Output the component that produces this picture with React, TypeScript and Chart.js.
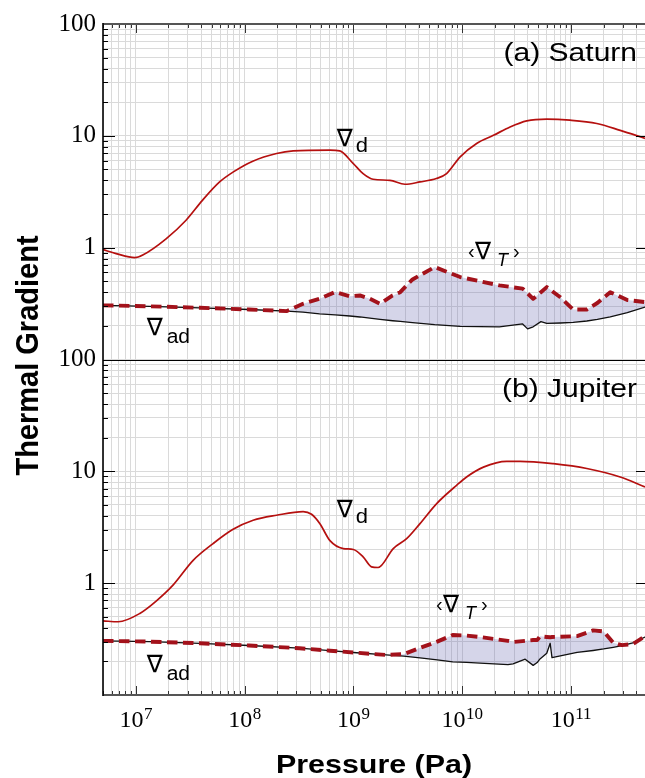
import React, { useEffect, useRef } from 'react';
import { Chart, registerables } from 'chart.js';

Chart.register(...registerables);

// ---------- Data ----------
// (a) Saturn
const saturnGradDPressure = [5e6, 6.6e6, 9.8e6, 1.16e7, 1.9e7, 2.9e7, 4.1e7, 5.9e7, 7.9e7, 1.19e8, 1.97e8, 2.8e8, 6.1e8, 7.5e8, 1e9, 1.23e9, 1.52e9, 2.17e9, 2.98e9, 4.1e9, 5.8e9, 7.2e9, 9.6e9, 1.36e10, 1.94e10, 2.76e10, 3.93e10, 6.0e10, 9.8e10, 1.73e11, 2.84e11, 4.8e11];
const saturnGradD = [0.96, 0.885, 0.815, 0.86, 1.2, 1.76, 2.65, 3.87, 4.76, 5.93, 6.95, 7.33, 7.45, 7.33, 5.65, 4.6, 4.09, 4.0, 3.69, 3.87, 4.15, 4.6, 6.49, 8.55, 10.1, 12.0, 13.6, 14.1, 13.8, 12.9, 11.2, 9.5];

const saturnPressure = [5e6, 1.35e7, 3.9e7, 1.1e8, 2.45e8, 3.45e8, 4.9e8, 6.8e8, 9.3e8, 1.15e9, 1.42e9, 1.76e9, 2.3e9, 2.7e9, 3.5e9, 5.6e9, 9.6e9, 2.2e10, 3.6e10, 4.0e10, 4.5e10, 5.3e10, 6.0e10, 8.0e10, 1.05e11, 1.4e11, 1.75e11, 2.3e11, 3.3e11, 4.8e11];
const saturnGradAd = [0.305, 0.298, 0.289, 0.28, 0.271, 0.265, 0.256, 0.251, 0.245, 0.24, 0.234, 0.228, 0.222, 0.219, 0.214, 0.205, 0.198, 0.196, 0.208, 0.188, 0.196, 0.218, 0.21, 0.212, 0.215, 0.221, 0.228, 0.24, 0.262, 0.294];
const saturnGradT = [0.305, 0.299, 0.29, 0.28, 0.271, 0.315, 0.349, 0.401, 0.367, 0.374, 0.349, 0.315, 0.374, 0.40, 0.52, 0.671, 0.546, 0.46, 0.43, 0.39, 0.349, 0.40, 0.444, 0.36, 0.28, 0.28, 0.32, 0.40, 0.34, 0.326];

// (b) Jupiter
const jupiterGradDPressure = [5e6, 6.9e6, 1.09e7, 1.55e7, 2.2e7, 3.37e7, 5.14e7, 7.85e7, 1.2e8, 1.97e8, 3.46e8, 4.13e8, 4.93e8, 6.1e8, 8.08e8, 1e9, 1.23e9, 1.47e9, 1.69e9, 2.33e9, 3.09e9, 4.1e9, 5.84e9, 8.9e9, 1.1e10, 1.57e10, 2.57e10, 3.41e10, 6.9e10, 1.4e11, 2.84e11, 4.8e11];
const jupiterGradD = [0.46, 0.452, 0.536, 0.695, 0.96, 1.6, 2.26, 3.03, 3.65, 4.05, 4.37, 4.13, 3.4, 2.4, 2.04, 2.0, 1.72, 1.4, 1.38, 2.04, 2.5, 3.41, 5.15, 7.5, 8.9, 10.9, 12.3, 12.3, 11.7, 10.6, 8.9, 7.25];

const jupiterPressure = [5e6, 1.35e7, 3.9e7, 1.1e8, 3.2e8, 6.1e8, 1e9, 2.0e9, 2.9e9, 4.1e9, 5.9e9, 8.2e9, 1.1e10, 1.46e10, 2.64e10, 2.94e10, 3.8e10, 4.5e10, 4.9e10, 5.2e10, 6.0e10, 6.45e10, 6.7e10, 1.14e11, 1.6e11, 2.0e11, 2.45e11, 2.95e11, 3.7e11, 4.8e11];
const jupiterGradAd = [0.305, 0.3, 0.29, 0.277, 0.262, 0.249, 0.24, 0.228, 0.223, 0.215, 0.206, 0.198, 0.196, 0.193, 0.187, 0.19, 0.209, 0.184, 0.195, 0.21, 0.236, 0.29, 0.216, 0.24, 0.25, 0.258, 0.267, 0.276, 0.292, 0.33];
const jupiterGradT = [0.305, 0.3, 0.29, 0.277, 0.262, 0.249, 0.24, 0.228, 0.232, 0.264, 0.3, 0.344, 0.34, 0.33, 0.305, 0.298, 0.305, 0.31, 0.31, 0.335, 0.33, 0.328, 0.33, 0.336, 0.378, 0.37, 0.293, 0.279, 0.285, 0.335];

// Axis ranges and labels
const pressureRange = [5e6, 4.8e11];
const gradientRange = [0.1, 100];
const xDecadeExponents = ['7', '8', '9', '10', '11'];
const panelTitles = ['(a) Saturn', '(b) Jupiter'];
const xTitle = 'Pressure (Pa)';
const yTitle = 'Thermal Gradient';

// ---------- Styles ----------
const RED = '#b5100f';
const DASH = '#a3121b';
const FILL = 'rgba(100,100,175,0.27)';
const GRID = '#dadada';
const SANS = '"Liberation Sans", Arial, sans-serif';
const SERIF = '"Liberation Serif", "Times New Roman", serif';
const NABLA = '"DejaVu Sans", sans-serif';

const pts = (xs: number[], ys: number[]) => xs.map((x, i) => ({ x, y: ys[i] }));

function logTicks(min: number, max: number) {
  const out: { value: number }[] = [];
  for (let e = Math.floor(Math.log10(min)); e <= Math.ceil(Math.log10(max)); e++) {
    for (let m = 1; m <= 9; m++) {
      const v = m * Math.pow(10, e);
      if (v >= min * 0.9999 && v <= max * 1.0001) out.push({ value: v });
    }
  }
  return out;
}
const isDecade = (v: number) => {
  const l = Math.log10(v);
  return Math.abs(l - Math.round(l)) < 1e-9;
};

type Part = { t: string; font: string; dx: number; dy: number; sx?: number };
const nablaFont = `24px ${NABLA}`;
const gradDParts: Part[] = [
  { t: '∇', font: nablaFont, dx: 0, dy: 0 },
  { t: 'd', font: `20px ${SANS}`, dx: 19, dy: 6, sx: 1.1 },
];
const gradAdParts: Part[] = [
  { t: '∇', font: nablaFont, dx: 0, dy: 0 },
  { t: 'ad', font: `20px ${SANS}`, dx: 20, dy: 8, sx: 1.05 },
];
const gradTParts: Part[] = [
  { t: '‹', font: `20px ${SANS}`, dx: 1, dy: -1 },
  { t: '∇', font: nablaFont, dx: 8, dy: 0 },
  { t: 'T', font: `italic 18px ${SANS}`, dx: 30, dy: 7 },
  { t: '›', font: `20px ${SANS}`, dx: 46, dy: -1 },
];
// anchors in data coordinates (pressure, gradient)
const annotations = [
  { axis: 'yTop', p: 7.06e8, g: 8.1, parts: gradDParts },
  { axis: 'yTop', p: 1.11e10, g: 0.8, parts: gradTParts },
  { axis: 'yTop', p: 1.26e7, g: 0.164, parts: gradAdParts },
  { axis: 'yBot', p: 7.06e8, g: 3.88, parts: gradDParts },
  { axis: 'yBot', p: 5.64e9, g: 0.55, parts: gradTParts },
  { axis: 'yBot', p: 1.26e7, g: 0.16, parts: gradAdParts },
];

function drawParts(ctx: CanvasRenderingContext2D, x: number, y: number, parts: Part[]) {
  for (const p of parts) {
    ctx.save();
    ctx.font = p.font;
    ctx.textAlign = 'left';
    ctx.textBaseline = 'alphabetic';
    ctx.translate(x + p.dx, y + p.dy);
    ctx.scale(p.sx ?? 1, 1);
    ctx.fillText(p.t, 0, 0);
    ctx.restore();
  }
}

const framePlugin = {
  id: 'frame',
  afterDraw(chart: any) {
    const { ctx, chartArea: a, scales } = chart;
    const xs = scales.x;
    const panels = [scales.yTop, scales.yBot];
    ctx.save();
    ctx.fillStyle = '#000';

    // x ticks (inward) top and bottom
    for (const t of xs.ticks) {
      const px = Math.round(xs.getPixelForValue(t.value)) + 0.5;
      const major = isDecade(t.value);
      const len = major ? 9 : 4;
      ctx.lineWidth = 1;
      ctx.strokeStyle = '#333';
      ctx.beginPath();
      ctx.moveTo(px, a.top);
      ctx.lineTo(px, a.top + len);
      ctx.moveTo(px, a.bottom);
      ctx.lineTo(px, a.bottom - len);
      ctx.stroke();
    }
    // y ticks (inward) left, majors on right
    for (const s of panels) {
      for (const t of s.ticks) {
        const py = Math.round(s.getPixelForValue(t.value)) + 0.5;
        const major = isDecade(t.value);
        ctx.strokeStyle = '#000';
        ctx.lineWidth = 1;
        ctx.beginPath();
        ctx.moveTo(a.left, py);
        ctx.lineTo(a.left + (major ? 12 : 5), py);
        if (major) {
          ctx.moveTo(a.right, py);
          ctx.lineTo(a.right - 9, py);
        }
        ctx.stroke();
      }
    }
    // frame lines
    ctx.strokeStyle = '#555';
    ctx.lineWidth = 2;
    ctx.beginPath();
    ctx.moveTo(a.left, a.top);
    ctx.lineTo(a.right, a.top);
    ctx.moveTo(a.left, a.bottom);
    ctx.lineTo(a.right, a.bottom);
    ctx.stroke();
    ctx.strokeStyle = '#000';
    ctx.lineWidth = 1;
    ctx.beginPath();
    const mid = Math.round(scales.yTop.bottom) + 0.5;
    ctx.moveTo(a.left, mid);
    ctx.lineTo(a.right, mid);
    ctx.stroke();
    ctx.lineWidth = 1.6;
    ctx.beginPath();
    ctx.moveTo(a.left, a.top - 1);
    ctx.lineTo(a.left, a.bottom + 1);
    ctx.stroke();

    // x tick labels 10^n
    for (const ex of xDecadeExponents) {
      const px = xs.getPixelForValue(Math.pow(10, Number(ex)));
      ctx.font = `24px ${SERIF}`;
      const w10 = ctx.measureText('10').width;
      ctx.font = `17px ${SERIF}`;
      const we = ctx.measureText(ex).width;
      const x0 = px - (w10 + we) / 2;
      ctx.textAlign = 'left';
      ctx.textBaseline = 'alphabetic';
      ctx.font = `24px ${SERIF}`;
      ctx.fillText('10', x0, a.bottom + 32);
      ctx.font = `17px ${SERIF}`;
      ctx.fillText(ex, x0 + w10 + 0.5, a.bottom + 24);
    }

    // axis titles
    ctx.save();
    ctx.font = `bold 26px ${SANS}`;
    ctx.textAlign = 'center';
    ctx.textBaseline = 'alphabetic';
    ctx.translate((a.left + a.right) / 2, a.bottom + 78);
    ctx.scale(1.17, 1);
    ctx.fillText(xTitle, 0, 0);
    ctx.restore();

    ctx.save();
    ctx.font = `bold 29px ${SANS}`;
    ctx.textAlign = 'center';
    ctx.textBaseline = 'alphabetic';
    ctx.translate(38, (a.top + a.bottom) / 2 - 4);
    ctx.rotate(-Math.PI / 2);
    ctx.scale(1, 1.1);
    ctx.fillText(yTitle, 0, 0);
    ctx.restore();

    // panel titles
    panels.forEach((s: any, i: number) => {
      ctx.save();
      ctx.font = `25px ${SANS}`;
      ctx.textAlign = 'right';
      ctx.textBaseline = 'alphabetic';
      ctx.translate(a.right - 8, s.top + 37);
      ctx.scale(1.2, 1);
      ctx.fillText(panelTitles[i], 0, 0);
      ctx.restore();
    });

    // curve annotations
    for (const an of annotations) {
      const s = scales[an.axis];
      drawParts(ctx, xs.getPixelForValue(an.p), s.getPixelForValue(an.g), an.parts);
    }
    ctx.restore();
  },
};

const yScale = (weight: number) => ({
  type: 'logarithmic' as const,
  position: 'left' as const,
  stack: 'panels',
  stackWeight: 1,
  weight,
  min: gradientRange[0],
  max: gradientRange[1],
  afterBuildTicks: (s: any) => {
    s.ticks = logTicks(gradientRange[0], gradientRange[1]);
  },
  afterFit: (s: any) => {
    s.width = 103;
  },
  ticks: {
    autoSkip: false,
    padding: 7,
    color: '#000',
    font: { family: SERIF, size: 25 },
    callback: (v: any) => (isDecade(Number(v)) && Number(v) >= 1 ? String(Math.round(Number(v))) : ''),
  },
  grid: { color: GRID, lineWidth: 1, drawTicks: false },
  border: { display: false },
});

export default function App() {
  const ref = useRef<HTMLCanvasElement | null>(null);
  useEffect(() => {
    if (!ref.current) return;
    const panel = (p: number[], ad: number[], t: number[], pd: number[], d: number[], axis: string, base: number) => [
      {
        label: '⟨∇T⟩',
        data: pts(p, t),
        yAxisID: axis,
        borderColor: DASH,
        borderWidth: 3.9,
        borderDash: [10.5, 5.5],
        fill: { target: base + 1, above: FILL, below: FILL },
        pointRadius: 0,
      },
      {
        label: '∇ad',
        data: pts(p, ad),
        yAxisID: axis,
        borderColor: '#111',
        borderWidth: 1.3,
        fill: false,
        pointRadius: 0,
      },
      {
        label: '∇d',
        data: pts(pd, d),
        yAxisID: axis,
        borderColor: RED,
        borderWidth: 1.7,
        fill: false,
        pointRadius: 0,
        cubicInterpolationMode: 'monotone',
      },
    ];
    const chart = new Chart(ref.current, {
      type: 'line',
      data: {
        datasets: [
          ...panel(saturnPressure, saturnGradAd, saturnGradT, saturnGradDPressure, saturnGradD, 'yTop', 0),
          ...panel(jupiterPressure, jupiterGradAd, jupiterGradT, jupiterGradDPressure, jupiterGradD, 'yBot', 3),
        ] as any,
      },
      options: {
        animation: false,
        responsive: false,
        events: [],
        layout: { padding: { top: 24, left: 0, right: 0, bottom: 0 } },
        plugins: {
          legend: { display: false },
          tooltip: { enabled: false },
          filler: { drawTime: 'beforeDatasetsDraw' },
        } as any,
        elements: { point: { radius: 0 }, line: { tension: 0, borderJoinStyle: 'round' } },
        scales: {
          x: {
            type: 'logarithmic',
            position: 'bottom',
            min: pressureRange[0],
            max: pressureRange[1],
            afterBuildTicks: (s: any) => {
              s.ticks = logTicks(pressureRange[0], pressureRange[1]);
            },
            afterFit: (s: any) => {
              s.height = 83;
            },
            ticks: { display: false, autoSkip: false },
            grid: { color: GRID, lineWidth: 1, drawTicks: false },
            border: { display: false },
          },
          yTop: yScale(1),
          yBot: yScale(0),
        } as any,
      },
      plugins: [framePlugin],
    });
    return () => chart.destroy();
  }, []);
  return (
    <div style={{ position: 'fixed', left: 0, top: 0, width: 645, height: 778, background: '#fff' }}>
      <canvas ref={ref} width={645} height={778} style={{ display: 'block' }} />
    </div>
  );
}
